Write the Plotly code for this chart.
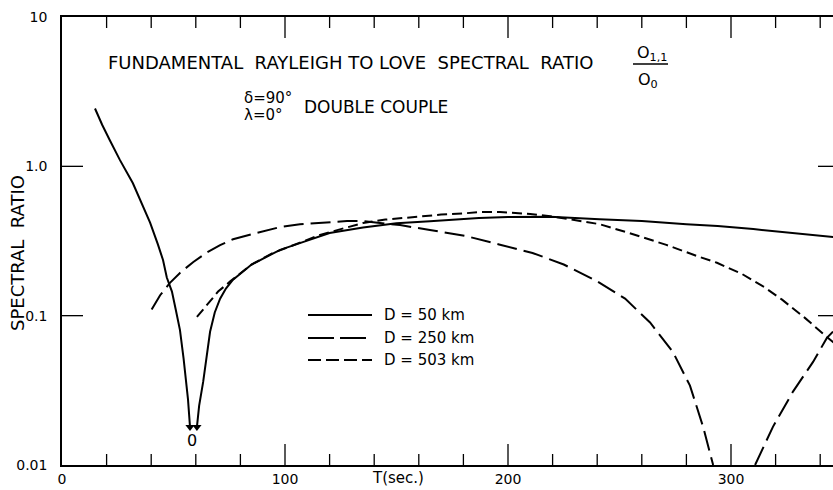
import plotly.graph_objects as go

# ---------------- data ----------------
# D = 50 km (solid) - branch falling to zero
T50_left = [14.8, 18, 21.5, 26, 31.8, 36, 39.5, 43, 45.3, 47, 49.3, 51, 52.9, 54.5, 56.5, 57.4]
R50_left = [2.44, 1.9, 1.49, 1.1, 0.77, 0.56, 0.42, 0.30, 0.236, 0.18, 0.145, 0.11, 0.08, 0.052, 0.0275, 0.018]
# D = 50 km (solid) - branch rising from zero
T50_right = [60.5, 61.5, 63.3, 65, 66.4, 68.5, 70.9, 73.5, 76.7, 85, 97.8, 107, 120, 135, 150, 165,
             187, 200, 219, 241, 260, 280, 294, 310, 330, 346]
R50_right = [0.018, 0.025, 0.036, 0.055, 0.078, 0.105, 0.13, 0.152, 0.174, 0.22, 0.276, 0.307, 0.358, 0.39,
             0.415, 0.428, 0.45, 0.457, 0.46, 0.443, 0.43, 0.41, 0.398, 0.38, 0.355, 0.336]

# D = 250 km (long dash)
T250_a = [40.2, 44, 48.4, 53, 58.9, 65, 70.9, 76.7, 87.3, 97.8, 106.7, 115.7, 127.8, 135, 142.6, 151.6,
          165, 181.6, 196, 211, 225, 240, 252.5, 263.7, 274, 281.6, 287.5, 292]
R250_a = [0.11, 0.137, 0.166, 0.194, 0.229, 0.265, 0.297, 0.325, 0.358, 0.392, 0.41, 0.417, 0.43, 0.43,
          0.417, 0.404, 0.375, 0.34, 0.30, 0.263, 0.22, 0.17, 0.13, 0.09, 0.057, 0.034, 0.018, 0.01]
T250_b = [310.8, 318.8, 327.8, 336.8, 343, 346]
R250_b = [0.01, 0.018, 0.031, 0.049, 0.071, 0.079]

# D = 503 km (short dash)
T503 = [60.5, 66, 70, 75.3, 85, 94.6, 106.7, 115.7, 125, 135, 145, 157, 170, 181.6, 187, 196.4, 210, 219,
        241, 255, 271, 285, 293.7, 305, 315, 322.9, 333, 343, 346]
R503 = [0.098, 0.123, 0.145, 0.169, 0.22, 0.263, 0.307, 0.347, 0.38, 0.417, 0.44, 0.457, 0.475, 0.486, 0.494,
        0.494, 0.48, 0.464, 0.41, 0.355, 0.298, 0.25, 0.226, 0.19, 0.155, 0.128, 0.097, 0.072, 0.066]

x_tickvals = [0, 100, 200, 300]
x_ticktext = ["0", "100", "200", "300"]
x_minor_ticks = [20, 40, 60, 80, 120, 140, 160, 180, 220, 240, 260, 280, 320, 340]
y_tickvals = [0.01, 0.1, 1, 10]
y_ticktext = ["0.01", "0.1", "1.0", "10"]
y_inner_ticks = [0.1, 1]
legend_labels = ["D = 50 km", "D = 250 km", "D = 503 km"]

# ---------------- layout geometry ----------------
W_PX, H_PX = 833, 490
L, R, T, B = 62, 0, 17, 25
PW, PH = W_PX - L - R, H_PX - T - B


def px(x):
    return (x - L) / PW


def py(y):
    return (H_PX - B - y) / PH


FONT = "DejaVu Sans"
BLACK = "#000000"
SOLID = "solid"
LONG = "20px,7px"
SHORT = "10px,5px"

fig = go.Figure()

line_kw = dict(mode="lines", hoverinfo="skip", showlegend=False)
fig.add_trace(go.Scatter(x=T50_left, y=R50_left, line=dict(color=BLACK, width=2, dash=SOLID), **line_kw))
fig.add_trace(go.Scatter(x=T50_right, y=R50_right, line=dict(color=BLACK, width=2, dash=SOLID), **line_kw))
fig.add_trace(go.Scatter(x=T250_a, y=R250_a, line=dict(color=BLACK, width=2, dash=LONG), **line_kw))
fig.add_trace(go.Scatter(x=T250_b, y=R250_b, line=dict(color=BLACK, width=2, dash=LONG), **line_kw))
fig.add_trace(go.Scatter(x=T503, y=R503, line=dict(color=BLACK, width=2, dash=SHORT), **line_kw))

# arrow heads at the zero crossing
fig.add_trace(go.Scatter(x=[T50_left[-1], T50_right[0]], y=[R50_left[-1], R50_right[0]], mode="markers",
                         marker=dict(symbol="triangle-down", size=8, color=BLACK),
                         hoverinfo="skip", showlegend=False))

xmax = (W_PX - R - L) / 2.23

axis_common = dict(showgrid=False, zeroline=False, linecolor=BLACK, linewidth=1.5, ticks="",
                   automargin=False)

fig.update_layout(
    width=W_PX, height=H_PX,
    margin=dict(l=L, r=R, t=T, b=B),
    paper_bgcolor="white", plot_bgcolor="white",
    font=dict(family=FONT, color=BLACK, size=14),
    xaxis=dict(range=[0, xmax], showline=True, mirror=True,
               tickvals=x_tickvals, ticktext=x_ticktext, tickfont=dict(size=14),
               ticklabelstandoff=0, **axis_common),
    yaxis=dict(type="log", range=[-2, 1], showline=True,
               tickvals=y_tickvals, ticktext=y_ticktext, tickfont=dict(size=14),
               ticklabelstandoff=10, **axis_common),
)

ann = []


def add_text(text, x, y, size=15, xanchor="left", xref="paper", yref="paper", **kw):
    ann.append(dict(text=text, x=x, y=y, xref=xref, yref=yref, xanchor=xanchor, yanchor="middle",
                    showarrow=False, font=dict(family=FONT, size=size, color=BLACK), **kw))


add_text("FUNDAMENTAL  RAYLEIGH TO LOVE  SPECTRAL  RATIO", px(106), py(63), size=18)
add_text("O<sub>1,1</sub>", px(652), py(53), size=16, xanchor="center")
add_text("O<sub>0</sub>", px(648), py(80), size=16, xanchor="center")
add_text("δ=90°", px(242), py(98), size=15)
add_text("λ=0°", px(242), py(115), size=15)
add_text("DOUBLE COUPLE", px(302), py(107), size=17)
add_text("0", px(192), py(440), size=16, xanchor="center")
add_text("T(sec.)", px(398), py(478), size=15, xanchor="center")
add_text("SPECTRAL  RATIO", px(17), py(253), size=18, xanchor="center", textangle=-90)

tick_line = dict(color=BLACK, width=1.3)
shapes = []
# x-axis ticks, bottom (pointing up) and top (pointing down)
for v, ln in [(v, 21) for v in x_tickvals[1:]] + [(v, 11) for v in x_minor_ticks]:
    shapes.append(dict(type="line", xref="x", yref="paper", x0=v, x1=v, y0=0, y1=ln / PH, line=tick_line))
    shapes.append(dict(type="line", xref="x", yref="paper", x0=v, x1=v, y0=1, y1=1 - ln / PH, line=tick_line))
# y-axis ticks, left (21 px) and right edge (15 px)
for v in y_inner_ticks:
    shapes.append(dict(type="line", xref="paper", yref="y", x0=0, x1=21 / PW, y0=v, y1=v, line=tick_line))
    shapes.append(dict(type="line", xref="paper", yref="y", x0=1 - 15 / PW, x1=1, y0=v, y1=v, line=tick_line))

# fraction bar
shapes.append(dict(type="line", xref="paper", yref="paper", x0=px(633), x1=px(668), y0=py(64), y1=py(64),
                   line=dict(color=BLACK, width=1.5)))

legend_y = [315, 338, 360]
legend_dash = [SOLID, "26px,6px", "13px,5px"]
for lab, yy, dsh in zip(legend_labels, legend_y, legend_dash):
    shapes.append(dict(type="line", xref="paper", yref="paper", x0=px(308), x1=px(372), y0=py(yy), y1=py(yy),
                       line=dict(color=BLACK, width=2, dash=dsh)))
    add_text(lab, px(382), py(yy), size=15)

fig.update_layout(annotations=ann, shapes=shapes)

fig.write_html("out.html")
